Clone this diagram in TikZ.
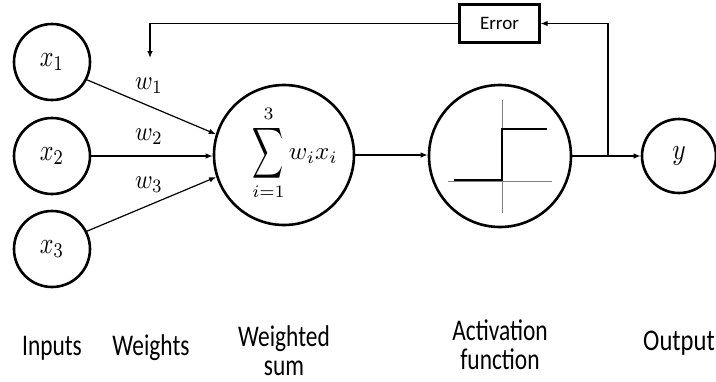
\documentclass[tikz,border=0pt]{standalone}
\usepackage{graphicx}
\usepackage{fontspec}
\setmainfont{Carlito}
\usetikzlibrary{arrows.meta}
% text scaled separately in width and height
\newcommand\narrowtxt[2]{\scalebox{#1}[1]{#2}}
\newcommand\bigmath[3]{\scalebox{#1}[#2]{#3}}
% two centred lines, baseline on the first one
\newcommand\twolines[2]{\vtop{\baselineskip=29pt\halign{\hfil##\hfil\cr #1\cr #2\cr}}}
\begin{document}
\begin{tikzpicture}[x=1pt,y=-1pt,
  neuron/.style={circle,draw,line width=2.6pt,inner sep=0pt},
  conn/.style={line width=1.2pt,-{Latex[length=7pt,width=5.5pt]}},
  boxline/.style={line width=2.8pt},
  wlbl/.style={anchor=base},
  caption/.style={font=\fontsize{30}{29}\selectfont,anchor=base,inner sep=0pt}]
\useasboundingbox (0,0) rectangle (716,381);

% input neurons
\node[neuron,minimum size=76pt] (x1) at (52,62) {\bigmath{2.4}{3}{$x_1$}};
\node[neuron,minimum size=76pt] (x2) at (52,156) {\bigmath{2.4}{3}{$x_2$}};
\node[neuron,minimum size=76pt] (x3) at (52,249) {\bigmath{2.4}{3}{$x_3$}};

% summation, activation and output
\node[neuron,minimum size=140pt] (sum) at (284,155) {};
\node (sumtxt) at (295,153)
  {\bigmath{2.5}{2.5}{$\displaystyle\mathop{\vcenter{\hbox{\scalebox{0.86}[1.42]{$\displaystyle\sum$}}}}\limits_{i=1}^{3} w_i x_i$}};
\node[neuron,minimum size=142pt] (act) at (500,156) {};
\node[neuron,minimum size=74pt] (y) at (679,156) {\bigmath{2.55}{3}{$y$}};

% error block
\node[minimum width=79pt,minimum height=37pt,inner sep=0pt,
  font=\fontsize{19}{22}\selectfont] (err) at (499.5,23.5) {Error};
\draw[boxline] (err.south west) rectangle (err.north east);

% weighted connections
\draw[conn] (x1.-27) -- (sum.163);
\draw[conn] (x2.east) -- (x2.east -| sum.west);
\draw[conn] (x3.27) -- (sum.198);
\node[wlbl] (w1) at (149,89) {\bigmath{2.38}{2.7}{$w_1$}};
\node[wlbl] (w2) at (149,140) {\bigmath{2.38}{2.7}{$w_2$}};
\node[wlbl] (w3) at (149,188) {\bigmath{2.38}{2.7}{$w_3$}};

% forward path
\draw[conn] (sum.east) -- (sum.east -| act.west);
\coordinate (j) at (608,156);
\draw[conn] (act.east) -- (y.west);

% feedback loop
\coordinate (fb) at (150,58);
\draw[conn] (j) |- ([xshift=1.4pt]err.east);
\draw[conn] ([xshift=-1.4pt]err.west) -| (fb);

% step activation sketch
\begin{scope}[shift={(act.center)}]
  \draw[gray,line width=0.6pt] (2,-56) -- (2,57);
  \draw[gray,line width=0.6pt] (-52,25) -- (52,25);
  \draw[line width=2.6pt] (-46,24) -- (2,24) -- (2,-27) -- (47,-27);
\end{scope}

% stage captions
\node[caption] (cin) at (52,355) {\narrowtxt{0.78}{Inputs}};
\node[caption] (cw) at (151,355) {\narrowtxt{0.78}{Weights}};
\node[caption] (cs) at (284,346) {\narrowtxt{0.78}{\twolines{Weighted}{sum}}};
\node[caption] (ca) at (500,340) {\narrowtxt{0.78}{\twolines{Activation}{function}}};
\node[caption] (co) at (679,350) {\narrowtxt{0.82}{Output}};
\end{tikzpicture}
\end{document}
